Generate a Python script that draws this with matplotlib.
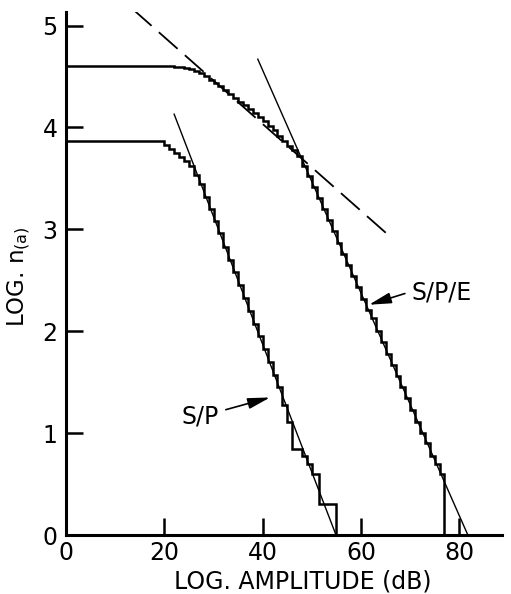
import matplotlib
matplotlib.use("Agg")
import matplotlib.pyplot as plt

plt.rcParams['font.family'] = ['DejaVu Sans']
plt.rcParams['lines.scale_dashes'] = False

# Cumulative amplitude distributions: step edges (dB) and log10 of count at/above
sp_amp = [0, 20, 21, 22, 23, 24, 25, 26, 27, 28, 29, 30, 31, 32, 33, 34, 35,
          36, 37, 38, 39, 40, 41, 42, 43, 44, 45, 45.9, 48, 49, 50, 51.5, 54.9]
sp_logn = [3.87, 3.83, 3.79, 3.75, 3.71, 3.67, 3.62, 3.53, 3.44, 3.32, 3.20,
           3.08, 2.96, 2.83, 2.70, 2.58, 2.45, 2.33, 2.20, 2.07, 1.95, 1.83,
           1.70, 1.57, 1.45, 1.28, 1.11, 0.845, 0.778, 0.699, 0.602, 0.301, 0.0]

spe_amp = [0, 22, 23, 24, 25, 26, 27, 28, 29, 30, 31, 32, 33, 34, 35, 36, 37,
           38, 39, 40, 41, 42, 43, 44, 45, 46, 47, 48, 49, 50, 51, 52, 53, 54,
           55, 56, 57, 58, 59, 60, 61, 62, 63, 64, 65, 66, 67, 68, 69, 70, 71,
           72, 73, 74, 75, 76, 76.8]
spe_logn = [4.60, 4.59, 4.59, 4.58, 4.57, 4.55, 4.53, 4.50, 4.47, 4.44, 4.41,
            4.37, 4.33, 4.29, 4.25, 4.22, 4.18, 4.14, 4.10, 4.06, 4.01, 3.97,
            3.92, 3.87, 3.82, 3.78, 3.72, 3.62, 3.52, 3.42, 3.31, 3.20, 3.09,
            2.98, 2.87, 2.76, 2.65, 2.54, 2.43, 2.32, 2.21, 2.13, 2.00, 1.89,
            1.78, 1.67, 1.56, 1.45, 1.34, 1.23, 1.11, 1.00, 0.90, 0.78, 0.70,
            0.60, 0.0]

# Fitted straight lines (end points)
sp_fit_x = [22.0, 54.9]
sp_fit_y = [4.13, 0.0]
spe_fit_x = [39.0, 81.7]
spe_fit_y = [4.67, 0.0]
spe_low_x = [13.6, 66.1]
spe_low_y = [5.16, 2.92]

x_ticks = [0, 20, 40, 60, 80]
y_ticks = [0, 1, 2, 3, 4, 5]

fig = plt.figure(figsize=(5.11, 5.94), dpi=100)
ax = fig.add_axes([0.129, 0.0993, 0.853, 0.880])

ax.step(sp_amp, sp_logn, where='post', color='black', lw=1.8,
        solid_joinstyle='miter')
ax.step(spe_amp, spe_logn, where='post', color='black', lw=1.8,
        solid_joinstyle='miter')

ax.plot(sp_fit_x, sp_fit_y, color='black', lw=1.0)
ax.plot(spe_fit_x, spe_fit_y, color='black', lw=1.0)
ax.plot(spe_low_x, spe_low_y, color='black', lw=1.3, dashes=(18, 7))

arrow = dict(arrowstyle='-|>,head_length=0.9,head_width=0.22', lw=1.2,
             color='black', shrinkA=0, shrinkB=0, mutation_scale=15)
ax.text(27.2, 1.16, 'S/P', fontsize=17, ha='center', va='center')
ax.annotate('', xy=(41.5, 1.35), xytext=(32.5, 1.23), arrowprops=arrow)
ax.text(76.4, 2.38, 'S/P/E', fontsize=17, ha='center', va='center')
ax.annotate('', xy=(61.6, 2.26), xytext=(68.9, 2.37), arrowprops=arrow)

ax.set_xlim(0, 88.6)
ax.set_ylim(0, 5.13)
ax.set_xticks(x_ticks)
ax.set_yticks(y_ticks)
ax.tick_params(direction='in', length=12, width=1.8, labelsize=17)
ax.tick_params(axis='x', pad=4)
ax.tick_params(axis='y', pad=6)

for side in ('top', 'right'):
    ax.spines[side].set_visible(False)
for side in ('left', 'bottom'):
    ax.spines[side].set_linewidth(2.2)

ax.text(0.544, -0.088, 'LOG. AMPLITUDE (dB)', transform=ax.transAxes,
        fontsize=17, ha='center', va='center')
ax.text(-0.108, 0.495, r'LOG. n$_{\mathregular{(a)}}$', transform=ax.transAxes,
        fontsize=16.5, ha='center', va='center', rotation=90)

fig.savefig('out.png', dpi=100)
